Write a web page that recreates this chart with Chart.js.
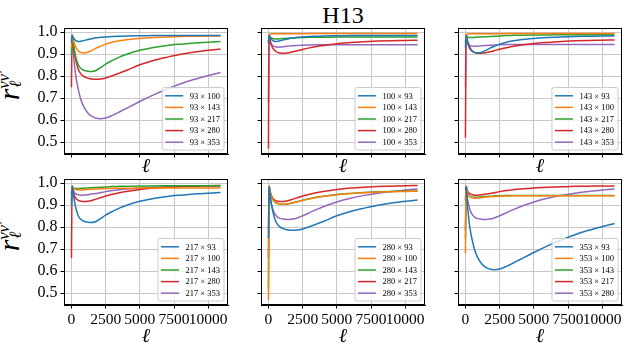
<!DOCTYPE html>
<html><head><meta charset="utf-8">
<script src="https://cdn.jsdelivr.net/npm/chart.js@4.4.1/dist/chart.umd.min.js"></script>
<style>
html,body{margin:0;padding:0;background:#fff;}
#wrap{position:relative;width:629px;height:350px;overflow:hidden;background:#fff;}
canvas{position:absolute;left:0;top:0;}
.title{position:absolute;left:243px;top:2.6px;width:200px;text-align:center;font-family:"Liberation Serif",serif;font-size:24px;line-height:24px;color:#000;}
.ylab{position:absolute;width:60px;height:36px;line-height:36px;transform:rotate(-90deg);font-family:"Liberation Serif","DejaVu Serif",serif;font-size:30px;text-align:center;white-space:nowrap;color:#000;}
.ss{position:relative;display:inline-block;width:17px;height:1px;}
.sp{position:absolute;left:0px;bottom:7px;font-size:17px;line-height:17px;font-style:italic;letter-spacing:-0.5px;}
.sb{position:absolute;left:1px;top:-11px;font-size:17px;line-height:17px;font-style:italic;}
</style></head><body>
<div id="wrap">
<div class="title">H13</div>
<div class="ylab" style="left:-21px;top:68px"><i>r</i><span class="ss"><span class="sp">νν′</span><span class="sb">ℓ</span></span></div>
<div class="ylab" style="left:-21px;top:219px"><i>r</i><span class="ss"><span class="sp">νν′</span><span class="sb">ℓ</span></span></div>
</div>
<script>
// ---- data ----
const freqs = [93, 100, 143, 217, 280, 353];
const ell = [2, 50, 150, 300, 500, 700, 900, 1200, 1500, 1800, 2100, 2500, 3000, 3500, 4000, 5000, 6000, 7000, 8000, 9000, 10000, 10900];
const r93_100 = [0.95, 0.986, 0.974, 0.963, 0.958, 0.959, 0.962, 0.967, 0.971, 0.975, 0.977, 0.979, 0.981, 0.982, 0.983, 0.984, 0.985, 0.985, 0.985, 0.985, 0.985, 0.985];
const r93_143 = [0.93, 0.986, 0.962, 0.935, 0.915, 0.908, 0.906, 0.909, 0.918, 0.928, 0.936, 0.946, 0.955, 0.961, 0.966, 0.972, 0.976, 0.979, 0.981, 0.982, 0.983, 0.983];
const r93_217 = [0.90, 0.986, 0.948, 0.893, 0.852, 0.835, 0.827, 0.823, 0.822, 0.826, 0.838, 0.855, 0.872, 0.887, 0.899, 0.918, 0.931, 0.940, 0.946, 0.951, 0.955, 0.958];
const r93_280 = [0.75, 0.986, 0.930, 0.878, 0.832, 0.810, 0.799, 0.791, 0.787, 0.786, 0.787, 0.792, 0.802, 0.814, 0.826, 0.852, 0.872, 0.887, 0.900, 0.910, 0.918, 0.924];
const r93_353 = [0.97, 0.986, 0.900, 0.810, 0.740, 0.692, 0.662, 0.633, 0.617, 0.609, 0.607, 0.610, 0.622, 0.637, 0.653, 0.685, 0.715, 0.742, 0.766, 0.786, 0.803, 0.817];
const r100_143 = [0.96, 0.990, 0.992, 0.993, 0.993, 0.993, 0.993, 0.993, 0.993, 0.993, 0.993, 0.993, 0.994, 0.994, 0.994, 0.994, 0.994, 0.994, 0.994, 0.994, 0.994, 0.994];
const r100_217 = [0.95, 0.986, 0.977, 0.972, 0.970, 0.970, 0.971, 0.972, 0.973, 0.974, 0.975, 0.976, 0.977, 0.977, 0.977, 0.978, 0.978, 0.978, 0.978, 0.978, 0.978, 0.978];
const r100_280 = [0.47, 0.986, 0.955, 0.930, 0.915, 0.908, 0.905, 0.905, 0.907, 0.911, 0.916, 0.922, 0.929, 0.935, 0.940, 0.948, 0.953, 0.957, 0.960, 0.962, 0.963, 0.964];
const r100_353 = [0.68, 0.986, 0.955, 0.940, 0.934, 0.932, 0.933, 0.935, 0.937, 0.939, 0.940, 0.941, 0.942, 0.943, 0.943, 0.943, 0.943, 0.943, 0.943, 0.943, 0.943, 0.943];
const r143_217 = [0.95, 0.986, 0.979, 0.976, 0.976, 0.977, 0.978, 0.979, 0.980, 0.981, 0.982, 0.983, 0.985, 0.986, 0.987, 0.988, 0.988, 0.989, 0.989, 0.989, 0.989, 0.989];
const r143_280 = [0.52, 0.986, 0.955, 0.928, 0.913, 0.907, 0.905, 0.905, 0.907, 0.911, 0.916, 0.923, 0.930, 0.936, 0.941, 0.949, 0.954, 0.958, 0.961, 0.963, 0.964, 0.965];
const r143_353 = [0.75, 0.986, 0.956, 0.941, 0.937, 0.936, 0.937, 0.939, 0.940, 0.941, 0.942, 0.943, 0.944, 0.944, 0.944, 0.944, 0.944, 0.944, 0.944, 0.944, 0.944, 0.944];
const r217_280 = [0.66, 0.987, 0.955, 0.933, 0.922, 0.918, 0.917, 0.918, 0.922, 0.928, 0.934, 0.942, 0.950, 0.957, 0.963, 0.972, 0.978, 0.982, 0.985, 0.987, 0.989, 0.990];
const r217_353 = [0.92, 0.987, 0.966, 0.953, 0.948, 0.946, 0.946, 0.948, 0.951, 0.954, 0.957, 0.962, 0.967, 0.971, 0.974, 0.979, 0.982, 0.984, 0.986, 0.987, 0.988, 0.988];
const r280_353 = [0.79, 0.987, 0.930, 0.885, 0.857, 0.845, 0.839, 0.836, 0.835, 0.837, 0.842, 0.852, 0.866, 0.880, 0.893, 0.915, 0.932, 0.945, 0.955, 0.963, 0.969, 0.974];
const xTicks = [0, 2500, 5000, 7500, 10000];
const yTicks = [0.5, 0.6, 0.7, 0.8, 0.9, 1.0];

const pairs = {
  '93_100': r93_100, '93_143': r93_143, '93_217': r93_217, '93_280': r93_280, '93_353': r93_353,
  '100_143': r100_143, '100_217': r100_217, '100_280': r100_280, '100_353': r100_353,
  '143_217': r143_217, '143_280': r143_280, '143_353': r143_353,
  '217_280': r217_280, '217_353': r217_353, '280_353': r280_353
};
function pair(a, b) { return pairs[Math.min(a, b) + '_' + Math.max(a, b)]; }

// ---- layout / style ----
const colors = ['#1f77b4', '#ff7f0e', '#2ca02c', '#d62728', '#9467bd'];
const colLeft = [64, 261, 458], colRight = [228, 425, 622];
const rowTop = [28, 179], rowBottom = [154, 305];
const SERIF = '"Liberation Serif", "DejaVu Serif", serif';
const CW = 629, CH = 350;

const framePlugin = {
  id: 'frameLegend',
  afterDraw(chart) {
    const ctx = chart.ctx, a = chart.chartArea;
    ctx.save();
    ctx.strokeStyle = '#000'; ctx.lineWidth = 1;
    ctx.strokeRect(Math.round(a.left) + 0.5, Math.round(a.top) + 0.5, Math.round(a.right - a.left) - 1, Math.round(a.bottom - a.top) - 1);
    // legend in lower right
    ctx.font = '8.5px ' + SERIF;
    const ds = chart.data.datasets;
    const tw = Math.max(...ds.map(d => ctx.measureText(d.label).width));
    const rowH = 11.6;
    const bw = 3 + 18 + 6.5 + tw + 4;
    const bh = 2.5 + rowH * ds.length + 2;
    const bx = a.right - 4 - bw, by = a.bottom - 4 - bh;
    ctx.beginPath();
    if (ctx.roundRect) ctx.roundRect(bx, by, bw, bh, 2); else ctx.rect(bx, by, bw, bh);
    ctx.fillStyle = 'rgba(255,255,255,0.8)'; ctx.fill();
    ctx.strokeStyle = '#cccccc'; ctx.lineWidth = 1; ctx.stroke();
    ds.forEach((d, i) => {
      const cy = by + 2.5 + rowH * (i + 0.5);
      ctx.beginPath(); ctx.moveTo(bx + 3, cy); ctx.lineTo(bx + 21, cy);
      ctx.strokeStyle = d.borderColor; ctx.lineWidth = 1.5; ctx.stroke();
      ctx.fillStyle = '#000'; ctx.textBaseline = 'middle'; ctx.textAlign = 'left';
      ctx.fillText(d.label, bx + 27.5, cy + 0.5);
    });
    ctx.restore();
  }
};

const wrap = document.getElementById('wrap');
freqs.forEach((f, p) => {
  const r = Math.floor(p / 3), c = p % 3;
  const W = c === 0 ? 40 : 8;
  const H = r === 0 ? 22.5 : 41.5;
  const cv = document.createElement('canvas');
  cv.width = CW; cv.height = CH;
  cv.style.width = CW + 'px'; cv.style.height = CH + 'px';
  wrap.appendChild(cv);
  const others = freqs.filter(g => g !== f);
  const datasets = others.map((g, i) => ({
    label: f + ' × ' + g,
    data: ell.map((l, k) => ({ x: l, y: pair(f, g)[k] })),
    borderColor: colors[i], backgroundColor: colors[i],
    borderWidth: 1.5, pointRadius: 0, fill: false,
    cubicInterpolationMode: 'monotone'
  }));
  new Chart(cv, {
    type: 'line',
    data: { datasets },
    options: {
      responsive: false, animation: false, devicePixelRatio: 1,
      layout: { padding: { left: colLeft[c] - W, right: CW - colRight[c], top: rowTop[r], bottom: CH - rowBottom[r] - H } },
      plugins: { legend: { display: false }, tooltip: { enabled: false }, title: { display: false } },
      scales: {
        x: {
          type: 'linear', min: -543, max: 11445,
          afterBuildTicks: s => { s.ticks = xTicks.map(v => ({ value: v })); },
          afterFit: s => { s.height = H; },
          ticks: { autoSkip: false, maxRotation: 0, minRotation: 0, padding: 2, color: '#000',
                   font: { family: SERIF, size: 15.5 },
                   callback: v => (r === 1 ? String(v) : '') },
          grid: { color: '#c8c8c8', lineWidth: 1, tickColor: '#000', tickLength: 3.5, drawTicks: true },
          border: { color: '#000', width: 1 },
          title: { display: true, text: 'ℓ', color: '#000', padding: 0,
                   font: { family: SERIF, size: 20, style: 'italic', lineHeight: 1 } }
        },
        y: {
          type: 'linear', min: 0.446, max: 1.0195,
          afterBuildTicks: s => { s.ticks = yTicks.map(v => ({ value: v })); },
          afterFit: s => { s.width = W; },
          ticks: { padding: 3, color: '#000', font: { family: SERIF, size: 16 },
                   callback: v => (c === 0 ? v.toFixed(1) : '') },
          grid: { color: '#c8c8c8', lineWidth: 1, tickColor: '#000', tickLength: 3.5, drawTicks: true },
          border: { color: '#000', width: 1 }
        }
      }
    },
    plugins: [framePlugin]
  });
});
</script>
</body></html>
